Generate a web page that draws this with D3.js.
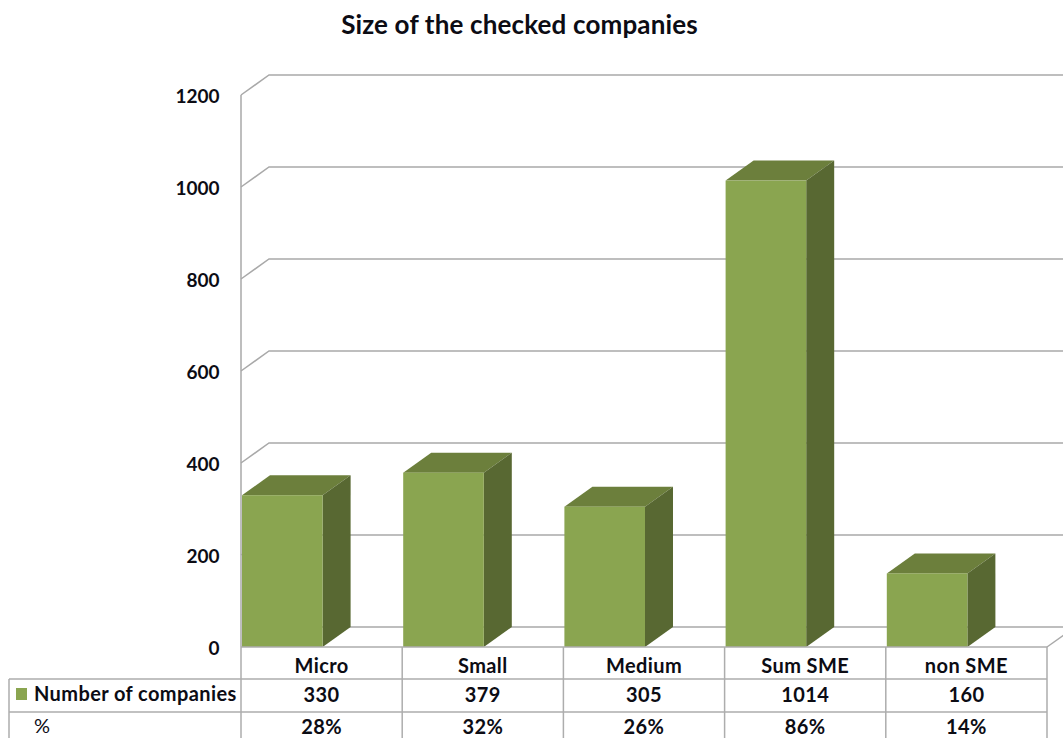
<!DOCTYPE html>
<html>
<head>
<meta charset="utf-8">
<script src="https://cdn.jsdelivr.net/npm/d3@7"></script>
<style>
	html, body { margin: 0; padding: 0; background: #fff; }
	svg { display: block; }
	text { font-family: Lato, "Open Sans", sans-serif; fill: #0c0c14; }
	.tick-label { font-weight: 700; font-size: 19px; }
	.table-label { font-weight: 700; font-size: 20px; letter-spacing: 0.4px; }
</style>
</head>
<body>
<svg id="chart" width="1063" height="738"></svg>
<script>
var categories = ["Micro", "Small", "Medium", "Sum SME", "non SME"];
var companies = [330, 379, 305, 1014, 160];
var percents = ["28%", "32%", "26%", "86%", "14%"];
var yTicks = [0, 200, 400, 600, 800, 1000, 1200];

var svg = d3.select("#chart");
var depth = { x: 28, y: -20 };
var gridColor = "#a9a9a9";
var tableColor = "#adadad";

var x = d3.scaleBand().domain(categories).range([241, 1047]).paddingInner(0).paddingOuter(0);
var y = d3.scaleLinear().domain([0, 1200]).range([647, 95]);
var barWidth = x.bandwidth() / 2;
var bottom = y(0);

svg.append("text")
	.attr("x", 519.5)
	.attr("y", 34)
	.attr("text-anchor", "middle")
	.style("font-size", "26px")
	.style("font-weight", 700)
	.style("letter-spacing", "0.15px")
	.text("Size of the checked companies");

// back wall grid lines
var grid = svg.append("g").attr("fill", "none").attr("stroke", gridColor).attr("stroke-width", 1.5);
grid.selectAll("path")
	.data(yTicks)
	.join("path")
	.attr("d", function(d) {
		var left = d == 0 ? 1047 : 241;
		var end = 1063;
		return "M" + left + "," + y(d) + "l" + depth.x + "," + depth.y + (d == 0 ? "" : "H" + end);
	});
// floor line at the back
grid.append("line")
	.attr("x1", x.range()[0] + depth.x).attr("x2", 1063)
	.attr("y1", bottom + depth.y).attr("y2", bottom + depth.y);
grid.append("line")
	.attr("x1", 241).attr("x2", 241)
	.attr("y1", y(1200)).attr("y2", bottom);

svg.append("g").selectAll("text")
	.data(yTicks)
	.join("text")
	.attr("class", "tick-label")
	.attr("x", 219.5)
	.attr("y", function(d) { return y(d) + 8; })
	.attr("text-anchor", "end")
	.text(function(d) { return d; });

// 3d bars
var bars = svg.append("g").selectAll("g")
	.data(categories)
	.join("g")
	.attr("transform", function(d) { return "translate(" + (x(d) + 1) + ",0)"; });

bars.append("path")
	.attr("fill", "#6c7f3c")
	.attr("d", function(d, i) {
		var top = y(companies[i]);
		return "M0," + top + "l" + depth.x + "," + depth.y + "h" + barWidth + "l" + (-depth.x) + "," + (-depth.y) + "Z";
	});
bars.append("path")
	.attr("fill", "#586832")
	.attr("d", function(d, i) {
		var top = y(companies[i]);
		return "M" + barWidth + "," + top + "l" + depth.x + "," + depth.y + "V" + (bottom + depth.y) + "l" + (-depth.x) + "," + (-depth.y) + "Z";
	});
bars.append("rect")
	.attr("fill", "#8aa550")
	.attr("width", barWidth)
	.attr("y", function(d, i) { return y(companies[i]); })
	.attr("height", function(d, i) { return bottom - y(companies[i]); });

// data table under the plot
var table = svg.append("g").attr("stroke", tableColor).attr("stroke-width", 1.5);
var rowLines = [bottom, 679, 712];
table.selectAll(".row")
	.data(rowLines)
	.join("line")
	.attr("class", "row")
	.attr("x1", function(d, i) { return i == 0 ? 241 : 9; })
	.attr("x2", 1047)
	.attr("y1", function(d) { return d; })
	.attr("y2", function(d) { return d; });
table.selectAll(".col")
	.data(categories.concat(["end"]))
	.join("line")
	.attr("class", "col")
	.attr("x1", function(d, i) { return 241 + i * x.bandwidth(); })
	.attr("x2", function(d, i) { return 241 + i * x.bandwidth(); })
	.attr("y1", bottom)
	.attr("y2", 738);
table.append("line")
	.attr("x1", 9).attr("x2", 9)
	.attr("y1", 679).attr("y2", 738);

var rows = [categories, companies, percents];
var rowBaselines = [673, 702, 734];
rows.forEach(function(row, r) {
	svg.append("g").selectAll("text")
		.data(row)
		.join("text")
		.attr("class", "table-label")
		.attr("x", function(d, i) { return x(categories[i]) + x.bandwidth() / 2; })
		.attr("y", rowBaselines[r])
		.attr("text-anchor", "middle")
		.text(function(d) { return d; });
});

svg.append("rect")
	.attr("x", 16).attr("y", 688).attr("width", 11).attr("height", 12)
	.attr("fill", "#8aa550");
svg.append("text")
	.attr("class", "table-label")
	.attr("x", 34).attr("y", 701)
	.text("Number of companies");
svg.append("text")
	.attr("class", "table-label")
	.attr("x", 34).attr("y", 733)
	.style("font-weight", 400)
	.text("%");
</script>
</body>
</html>
